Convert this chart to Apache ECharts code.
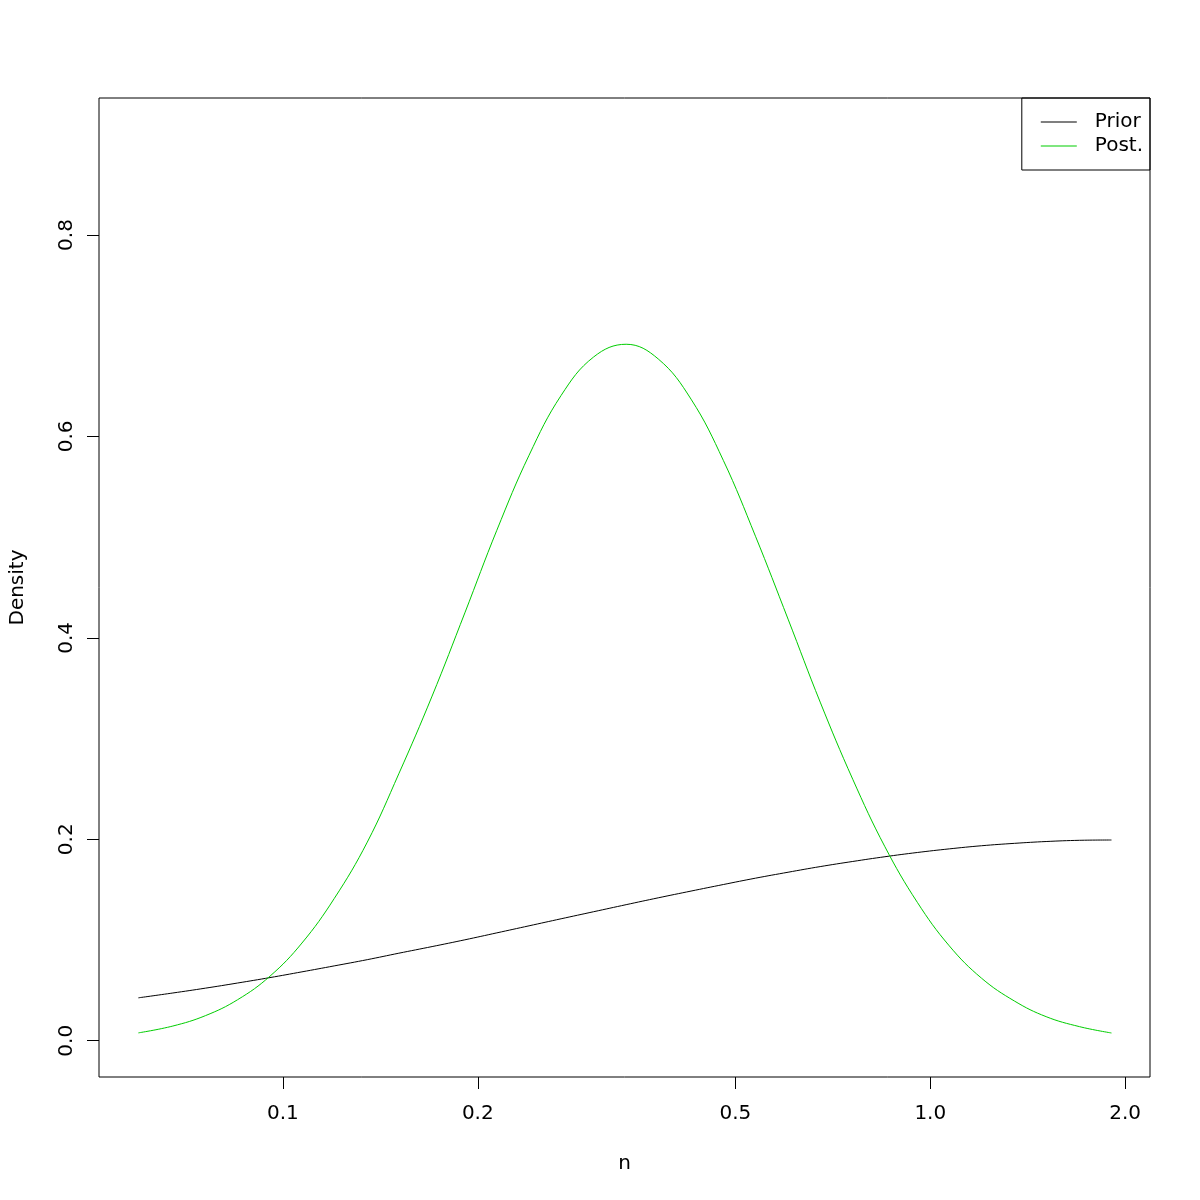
<!DOCTYPE html>
<html>
<head>
<meta charset="utf-8">
<script src="https://cdn.jsdelivr.net/npm/echarts@6/dist/echarts.min.js"></script>
<style>
html,body{margin:0;padding:0;background:#fff;}
#chart{width:1200px;height:1200px;}
</style>
</head>
<body>
<div id="chart"></div>
<script>
// n values (x, log scale)
const nValues = [0.0598, 0.0676, 0.0759, 0.0851, 0.0955, 0.107, 0.120, 0.135, 0.151, 0.170, 0.191, 0.214, 0.240, 0.269, 0.302, 0.339, 0.380, 0.427, 0.479, 0.537, 0.603, 0.676, 0.759, 0.851, 0.955, 1.07, 1.20, 1.35, 1.51, 1.70, 1.905];
// Prior density
const priorValues = [0.0426, 0.0474, 0.0522, 0.0573, 0.0627, 0.0684, 0.0743, 0.0805, 0.0869, 0.0935, 0.1002, 0.1071, 0.1141, 0.1211, 0.1281, 0.1351, 0.1419, 0.1486, 0.1551, 0.1614, 0.1673, 0.1729, 0.1780, 0.1827, 0.1869, 0.1905, 0.1936, 0.1960, 0.1978, 0.1990, 0.1993];
// Posterior density
const postValues = [0.0078, 0.0146, 0.0249, 0.0407, 0.0641, 0.0970, 0.1411, 0.1972, 0.2650, 0.3422, 0.4248, 0.5068, 0.5813, 0.6407, 0.6789, 0.6915, 0.6769, 0.6370, 0.5762, 0.5009, 0.4186, 0.3362, 0.2596, 0.1926, 0.1374, 0.0942, 0.0621, 0.0393, 0.0239, 0.0140, 0.0077];
// tick labels
const xTickValues = [0.1, 0.2, 0.5, 1.0, 2.0];
const xTickLabels = ['0.1', '0.2', '0.5', '1.0', '2.0'];
const yTickValues = [0, 0.2, 0.4, 0.6, 0.8];
const yTickLabels = ['0.0', '0.2', '0.4', '0.6', '0.8'];

const FONT = 'DejaVu Sans';
const FS = 20;
const xTickLog = xTickValues.map(v => Math.log10(v));
function xLabel(v) {
  for (let i = 0; i < xTickLog.length; i++) if (Math.abs(xTickLog[i] - v) < 1e-6) return xTickLabels[i];
  return '';
}
function yLabel(v) {
  for (let i = 0; i < yTickValues.length; i++) if (Math.abs(yTickValues[i] - v) < 1e-6) return yTickLabels[i];
  return '';
}

const chart = echarts.init(document.getElementById('chart'), null, {renderer: 'canvas'});
chart.setOption({
  backgroundColor: '#fff',
  animation: false,
  textStyle: {fontFamily: FONT},
  grid: {left: 98, right: 50, top: 98, bottom: 123, show: true, borderColor: '#000', borderWidth: 1, backgroundColor: 'transparent'},
  legend: {
    orient: 'vertical', right: 50, top: 98,
    borderColor: '#000', borderWidth: 1, borderRadius: 0,
    padding: [12, 7, 12, 19], itemGap: 0,
    itemWidth: 36, itemHeight: 1, icon: 'rect',
    textStyle: {fontFamily: FONT, fontSize: FS, color: '#000', lineHeight: 24, padding: [0, 0, 0, 13]},
    data: ['Prior', 'Post.']
  },
  xAxis: {
    type: 'value', min: -1.2841, max: 0.3394,
    name: 'n', nameLocation: 'middle', nameGap: 77,
    nameTextStyle: {fontFamily: FONT, fontSize: FS, color: '#000'},
    axisLine: {show: false, onZero: false},
    splitLine: {show: false},
    axisTick: {show: true, length: 12, lineStyle: {color: '#000'}, customValues: xTickLog},
    axisLabel: {fontFamily: FONT, fontSize: FS, color: '#000', margin: 27, customValues: xTickLog, formatter: xLabel}
  },
  yAxis: {
    type: 'value', min: -0.036, max: 0.936,
    name: 'Density', nameLocation: 'middle', nameGap: 71,
    nameTextStyle: {fontFamily: FONT, fontSize: FS, color: '#000'},
    axisLine: {show: false, onZero: false},
    splitLine: {show: false},
    axisTick: {show: true, length: 12, lineStyle: {color: '#000'}, customValues: yTickValues},
    axisLabel: {fontFamily: FONT, fontSize: FS, color: '#000', margin: 22, rotate: 90, customValues: yTickValues, formatter: yLabel}
  },
  series: [
    {name: 'Prior', type: 'line', symbol: 'none', smooth: 0.4, lineStyle: {color: '#000', width: 1}, itemStyle: {color: '#000'},
     data: nValues.map((n, i) => [Math.log10(n), priorValues[i]])},
    {name: 'Post.', type: 'line', symbol: 'none', smooth: 0.4, lineStyle: {color: '#00CD00', width: 1}, itemStyle: {color: '#00CD00'},
     data: nValues.map((n, i) => [Math.log10(n), postValues[i]])}
  ]
});
</script>
</body>
</html>
